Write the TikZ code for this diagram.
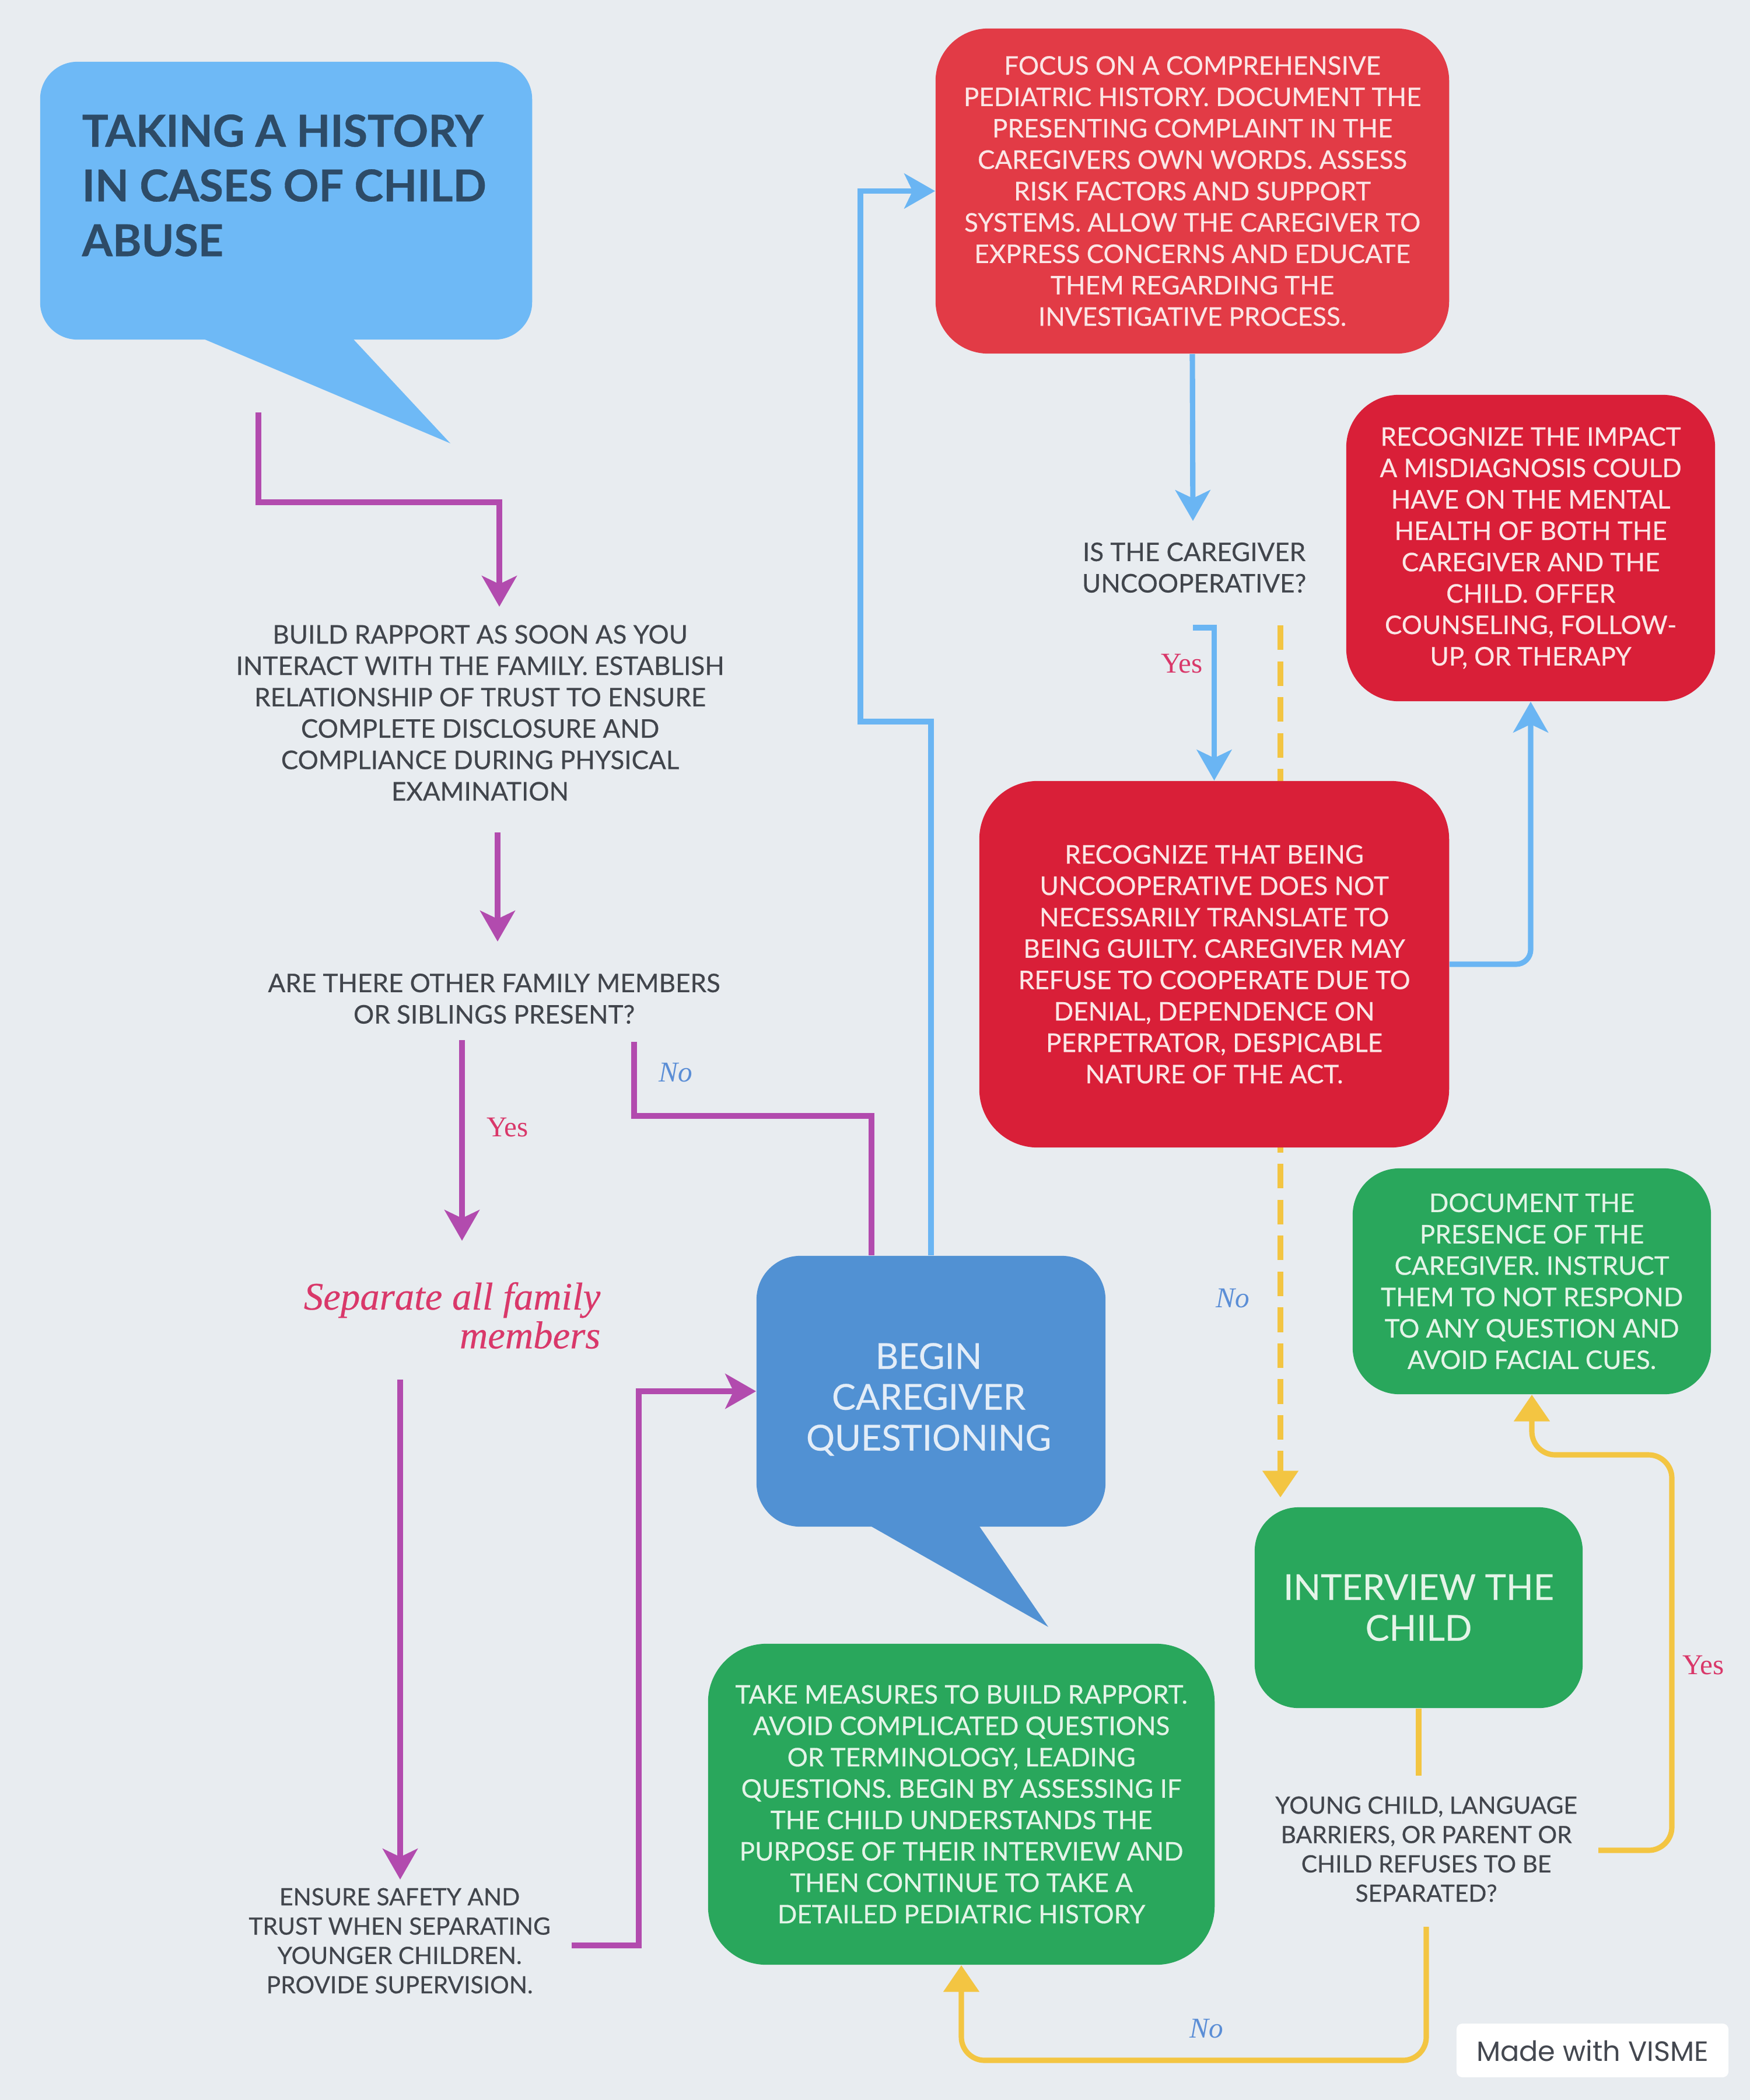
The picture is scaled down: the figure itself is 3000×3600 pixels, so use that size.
\documentclass[tikz,border=0pt]{standalone}
\usepackage{fontspec}
\setmainfont{Lato}
\newfontfamily\bodyfam{Lato}[FakeBold=0.4]
\newfontfamily\titlefam{Lato}[FakeBold=0.5]
\newfontfamily\serifx{Liberation Serif}
\newfontfamily\serifbx{Liberation Serif}[FakeBold=0.3]
\newfontfamily\popp{Poppins}
\usetikzlibrary{arrows.meta,calc}
\definecolor{bg}{HTML}{E8ECF0}
\definecolor{titleblue}{HTML}{6EB9F6}
\definecolor{titletext}{HTML}{2D4B67}
\definecolor{redA}{HTML}{E23B46}
\definecolor{redB}{HTML}{D91F38}
\definecolor{greenA}{HTML}{29A75C}
\definecolor{beginblue}{HTML}{5191D3}
\definecolor{purp}{HTML}{B24BAE}
\definecolor{lblue}{HTML}{6AB5F3}
\definecolor{yell}{HTML}{F3C542}
\definecolor{crim}{HTML}{D9386A}
\definecolor{labblue}{HTML}{5B8ED6}
\definecolor{graytext}{HTML}{41454C}
\definecolor{onred}{HTML}{FBE6E6}
\definecolor{ongreen}{HTML}{E4F4E8}
\definecolor{onblue}{HTML}{E3EDF8}
\definecolor{visgray}{HTML}{444850}
\newcommand\bodyf{\bodyfam\fontsize{12.5}{15.3}\selectfont}
\newcommand\smallbodyf{\bodyfam\fontsize{11.6}{14.3}\selectfont}
\newcommand\bigf{\bodyfam\fontsize{17.4}{19.9}\selectfont}
\newcommand\titlef{\titlefam\bfseries\fontsize{21.4}{26.7}\selectfont}
\tikzset{
  txt/.style={align=center, inner sep=0pt, font=\bodyf, text=graytext},
  box/.style={align=center, inner sep=0pt, font=\bodyf},
  redbox/.style={box, text=onred},
  greenbox/.style={box, text=ongreen},
  pline/.style={draw=purp, line width=2.6pt},
  parr/.style={pline, -{Stealth[length=15pt,width=17pt,inset=4pt]}},
  bline/.style={draw=lblue, line width=2.6pt},
  barr/.style={bline, -{Stealth[length=15pt,width=17pt,inset=4pt]}},
  yline/.style={draw=yell, line width=2.6pt},
  yarr/.style={yline, -{Triangle[length=13pt,width=17pt]}},
  ydash/.style={yarr, dash pattern=on 12pt off 5.5pt},
  yeslab/.style={inner sep=0pt, text=crim, font=\serifx\fontsize{14}{16}\selectfont},
  nolab/.style={inner sep=0pt, text=labblue, font=\serifx\itshape\fontsize{14}{16}\selectfont},
}
\begin{document}
\begin{tikzpicture}[x=0.01cm,y=-0.01cm]
\fill[bg] (0,0) rectangle (3000,3600);
\useasboundingbox (0,0) rectangle (3000,3600);

% ---------- connectors ----------
\coordinate (a0) at (443,707);
\coordinate (a1) at (856,1040);
\draw[parr] (a0) -- ++(0,154) -| (a1);

\coordinate (b0) at (853,1427);
\coordinate (b1) at (853,1614);
\draw[parr] (b0) -- (b1);

\coordinate (c0) at (792,1783);
\coordinate (c1) at (792,2127);
\draw[parr] (c0) -- (c1);

\coordinate (d0) at (1087,1786);
\coordinate (d1) at (1494,1913);

\coordinate (e0) at (686,2365);
\coordinate (e1) at (686,3222);
\draw[parr] (e0) -- (e1);

\coordinate (f0) at (980,3335);
\coordinate (f1) at (1095,3335);

\coordinate (g1) at (1475,1237);
\coordinate (h1) at (2045,893);
\coordinate (i0) at (2045,1076);
\coordinate (j0) at (2195,1072);
\coordinate (j1) at (2195,2567);
\draw[ydash] (j0) -- (j1);

\coordinate (l1) at (2432,3044);
\coordinate (m0) at (2740,3172);
\coordinate (m1) at (2866,2494);
\coordinate (n0) at (2445,3303);
\coordinate (n1) at (2000,3532);

% ---------- boxes ----------
\node[fill=titleblue, minimum width=8.43cm, minimum height=4.76cm, rounded corners=0.64cm, inner sep=0pt] (title) at (490.5,344) {};
\fill[titleblue] (323,570) -- (595,570) -- (772,760) -- cycle;
\node[anchor=west, text=titletext, font=\titlef, align=left, inner sep=0pt] (titletxt) at (140,318) {TAKING A HISTORY\\IN CASES OF CHILD\\ABUSE};

\node[txt] (rapport) at (823,1222) {BUILD RAPPORT AS SOON AS YOU\\INTERACT WITH THE FAMILY. ESTABLISH\\RELATIONSHIP OF TRUST TO ENSURE\\COMPLETE DISCLOSURE AND\\COMPLIANCE DURING PHYSICAL\\EXAMINATION};
\node[txt] (others) at (847,1712) {ARE THERE OTHER FAMILY MEMBERS\\OR SIBLINGS PRESENT?};
\node[anchor=east, align=right, inner sep=0pt, text=crim, font=\serifbx\itshape\fontsize{19}{18.9}\selectfont] (separate) at (1030,2255) {Separate all family\\members};
\node[txt, font=\smallbodyf] (ensure) at (685,3327) {ENSURE SAFETY AND\\TRUST WHEN SEPARATING\\YOUNGER CHILDREN.\\PROVIDE SUPERVISION.};
\node[txt] (question) at (2047,973) {IS THE CAREGIVER\\UNCOOPERATIVE?};
\node[txt, font=\smallbodyf] (young) at (2445,3170) {YOUNG CHILD, LANGUAGE\\BARRIERS, OR PARENT OR\\CHILD REFUSES TO BE\\SEPARATED?};

\node[redbox, fill=redA, minimum width=8.8cm, minimum height=5.57cm, rounded corners=0.9cm] (focus) at (2044,327.5) {FOCUS ON A COMPREHENSIVE\\PEDIATRIC HISTORY. DOCUMENT THE\\PRESENTING COMPLAINT IN THE\\CAREGIVERS OWN WORDS. ASSESS\\RISK FACTORS AND SUPPORT\\SYSTEMS. ALLOW THE CAREGIVER TO\\EXPRESS CONCERNS AND EDUCATE\\THEM REGARDING THE\\INVESTIGATIVE PROCESS.};

\node[redbox, fill=redB, minimum width=8.05cm, minimum height=6.28cm, rounded corners=1cm] (red2) at (2081.5,1653) {RECOGNIZE THAT BEING\\UNCOOPERATIVE DOES NOT\\NECESSARILY TRANSLATE TO\\BEING GUILTY. CAREGIVER MAY\\REFUSE TO COOPERATE DUE TO\\DENIAL, DEPENDENCE ON\\PERPETRATOR, DESPICABLE\\NATURE OF THE ACT.};

\node[redbox, fill=redB, minimum width=6.32cm, minimum height=5.25cm, rounded corners=0.9cm] (impact) at (2624,939.5) {RECOGNIZE THE IMPACT\\A MISDIAGNOSIS COULD\\HAVE ON THE MENTAL\\HEALTH OF BOTH THE\\CAREGIVER AND THE\\CHILD. OFFER\\COUNSELING, FOLLOW-\\UP, OR THERAPY};

\node[greenbox, fill=greenA, minimum width=6.14cm, minimum height=3.87cm, rounded corners=0.8cm] (docu) at (2626,2196.5) {DOCUMENT THE\\PRESENCE OF THE\\CAREGIVER. INSTRUCT\\THEM TO NOT RESPOND\\TO ANY QUESTION AND\\AVOID FACIAL CUES.};

\node[fill=beginblue, minimum width=5.98cm, minimum height=4.64cm, rounded corners=0.75cm, inner sep=0pt] (begin) at (1596,2385) {};
\fill[beginblue] (1473,2605) -- (1671,2605) -- (1797,2789) -- cycle;
\node[box, text=onblue, font=\bigf] (begintxt) at (1592,2399) {BEGIN\\CAREGIVER\\QUESTIONING};

\node[greenbox, font=\bigf, fill=greenA, minimum width=5.62cm, minimum height=3.44cm, rounded corners=0.75cm] (interview) at (2432,2756) {INTERVIEW THE\\CHILD};

\node[greenbox, fill=greenA, minimum width=8.68cm, minimum height=5.5cm, rounded corners=1cm] (measures) at (1648,3093) {TAKE MEASURES TO BUILD RAPPORT.\\AVOID COMPLICATED QUESTIONS\\OR TERMINOLOGY, LEADING\\QUESTIONS. BEGIN BY ASSESSING IF\\THE CHILD UNDERSTANDS THE\\PURPOSE OF THEIR INTERVIEW AND\\THEN CONTINUE TO TAKE A\\DETAILED PEDIATRIC HISTORY};

\node[fill=white, minimum width=4.66cm, minimum height=0.92cm, rounded corners=0.1cm, inner sep=0pt, text=visgray, font=\popp\fontsize{13.6}{15}\selectfont] (visme) at (2730,3515) {Made with VISME};

% ---------- connectors touching boxes ----------
\draw[pline] (d0) |- (d1) -- (d1 |- begin.north);
\draw[parr] (f0) -- (f1) |- (begin.west);
\draw[barr] (begin.north) |- (g1) |- (focus.west);
\draw[barr] (focus.south) -- (h1);
\draw[barr] (i0) -| (red2.north);
\draw[barr, rounded corners=0.25cm] (red2.east) -| (impact.south);
\draw[yline] (interview.south) -- (l1);
\draw[yarr, rounded corners=0.4cm] (m0) -| (m1) -| (docu.south);
\draw[yarr, rounded corners=0.4cm] (n0) |- (n1) -| (measures.south);

% ---------- labels ----------
\node[yeslab] (yes1) at (870,1933) {Yes};
\node[nolab] (no1) at (1158,1839) {No};
\node[yeslab] (yes2) at (2026,1138) {Yes};
\node[nolab] (no2) at (2113,2226) {No};
\node[yeslab] (yes3) at (2920,2855) {Yes};
\node[nolab] (no3) at (2068,3478) {No};
\end{tikzpicture}
\end{document}
